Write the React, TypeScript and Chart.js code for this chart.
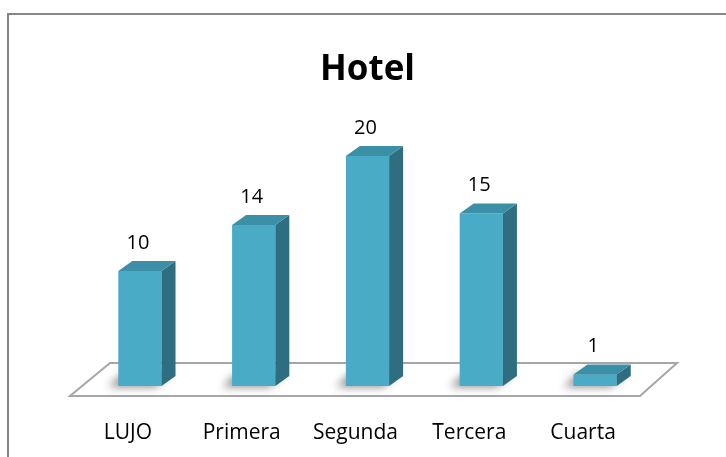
import React, { useEffect, useRef } from "react";
import { Chart, registerables } from "chart.js";

Chart.register(...registerables);

const categories = ["LUJO", "Primera", "Segunda", "Tercera", "Cuarta"];
const values = [10, 14, 20, 15, 1];
const chartTitle = "Hotel";

const FRONT = "#4aabc6";
const SIDE = "#2e6e80";
const TOP = "#3b8fa7";
const DX = 14;
const DY = 10;

const threeD = {
  id: "threeD",
  beforeDatasetsDraw(chart: any) {
    const { ctx, chartArea } = chart;
    const yBase = chart.scales.y.getPixelForValue(0);
    // floor
    const fy = yBase + 10;
    const by = yBase - 23;
    ctx.save();
    ctx.beginPath();
    ctx.moveTo(chartArea.left - 13, fy);
    ctx.lineTo(chartArea.right - 12, fy);
    ctx.lineTo(chartArea.right + 25, by);
    ctx.lineTo(chartArea.left + 27, by);
    ctx.closePath();
    ctx.fillStyle = "#ffffff";
    ctx.fill();
    ctx.lineWidth = 2;
    ctx.strokeStyle = "#a6a6a6";
    ctx.stroke();
    // shadows
    const meta = chart.getDatasetMeta(0);
    meta.data.forEach((bar: any) => {
      const l = bar.x - bar.width / 2 - 10;
      const r = bar.x + bar.width / 2 - 6;
      ctx.save();
      ctx.filter = "blur(4px)";
      ctx.fillStyle = "rgba(0,0,0,0.45)";
      ctx.beginPath();
      ctx.moveTo(l, yBase + 1);
      ctx.lineTo(r, yBase + 1);
      ctx.lineTo(r + DX, yBase - DY - 2);
      ctx.lineTo(l + DX, yBase - DY - 2);
      ctx.closePath();
      ctx.fill();
      ctx.restore();
    });
    ctx.restore();
  },
  afterDatasetsDraw(chart: any) {
    const { ctx } = chart;
    const yBase = chart.scales.y.getPixelForValue(0);
    const meta = chart.getDatasetMeta(0);
    ctx.save();
    meta.data.forEach((bar: any, i: number) => {
      const l = bar.x - bar.width / 2;
      const r = bar.x + bar.width / 2;
      const t = bar.y;
      // side
      ctx.beginPath();
      ctx.moveTo(r, t);
      ctx.lineTo(r + DX, t - DY);
      ctx.lineTo(r + DX, yBase - DY);
      ctx.lineTo(r, yBase);
      ctx.closePath();
      ctx.fillStyle = SIDE;
      ctx.fill();
      // top
      ctx.beginPath();
      ctx.moveTo(l, t);
      ctx.lineTo(l + DX, t - DY);
      ctx.lineTo(r + DX, t - DY);
      ctx.lineTo(r, t);
      ctx.closePath();
      ctx.fillStyle = TOP;
      ctx.fill();
      // value label
      ctx.fillStyle = "#000000";
      ctx.font = "20px 'Open Sans'";
      ctx.textAlign = "center";
      ctx.textBaseline = "middle";
      ctx.fillText(String(values[i]), bar.x - 2, t - 28);
    });
    ctx.restore();
  },
};

export default function App() {
  const ref = useRef<HTMLCanvasElement | null>(null);
  useEffect(() => {
    if (!ref.current) return;
    const chart = new Chart(ref.current, {
      type: "bar",
      data: {
        labels: categories,
        datasets: [
          {
            data: values,
            backgroundColor: FRONT,
            borderWidth: 0,
            barPercentage: 0.38,
            categoryPercentage: 1,
          },
        ],
      },
      options: {
        animation: false,
        responsive: false,
        devicePixelRatio: 1,
        layout: { padding: { left: 83, right: 74, top: 0, bottom: 0 } },
        plugins: {
          legend: { display: false },
          tooltip: { enabled: false },
          title: {
            display: true,
            text: chartTitle,
            color: "#000000",
            font: { family: "'Open Sans'", size: 35, weight: "bold" },
            padding: { top: 49, bottom: 19 },
          },
        },
        scales: {
          x: {
            grid: { display: false, drawTicks: false },
            border: { display: false },
            afterFit: (scale: any) => {
              scale.height = 71;
            },
            ticks: {
              color: "#000000",
              font: { family: "'Open Sans'", size: 21 },
              padding: 34,
              labelOffset: -12,
            },
          },
          y: {
            display: false,
            min: 0,
            max: 24,
          },
        },
      },
      plugins: [threeD],
    });
    return () => chart.destroy();
  }, []);
  return (
    <div style={{ position: "fixed", left: 0, top: 0, width: 726, height: 457, overflow: "hidden", background: "#fff" }}>
      <div
        style={{
          position: "absolute",
          left: 7,
          top: 13,
          width: 760,
          height: 480,
          border: "2px solid #868686",
          boxSizing: "border-box",
        }}
      />
      <canvas ref={ref} width={726} height={457} style={{ position: "absolute", left: 0, top: 0 }} />
    </div>
  );
}
